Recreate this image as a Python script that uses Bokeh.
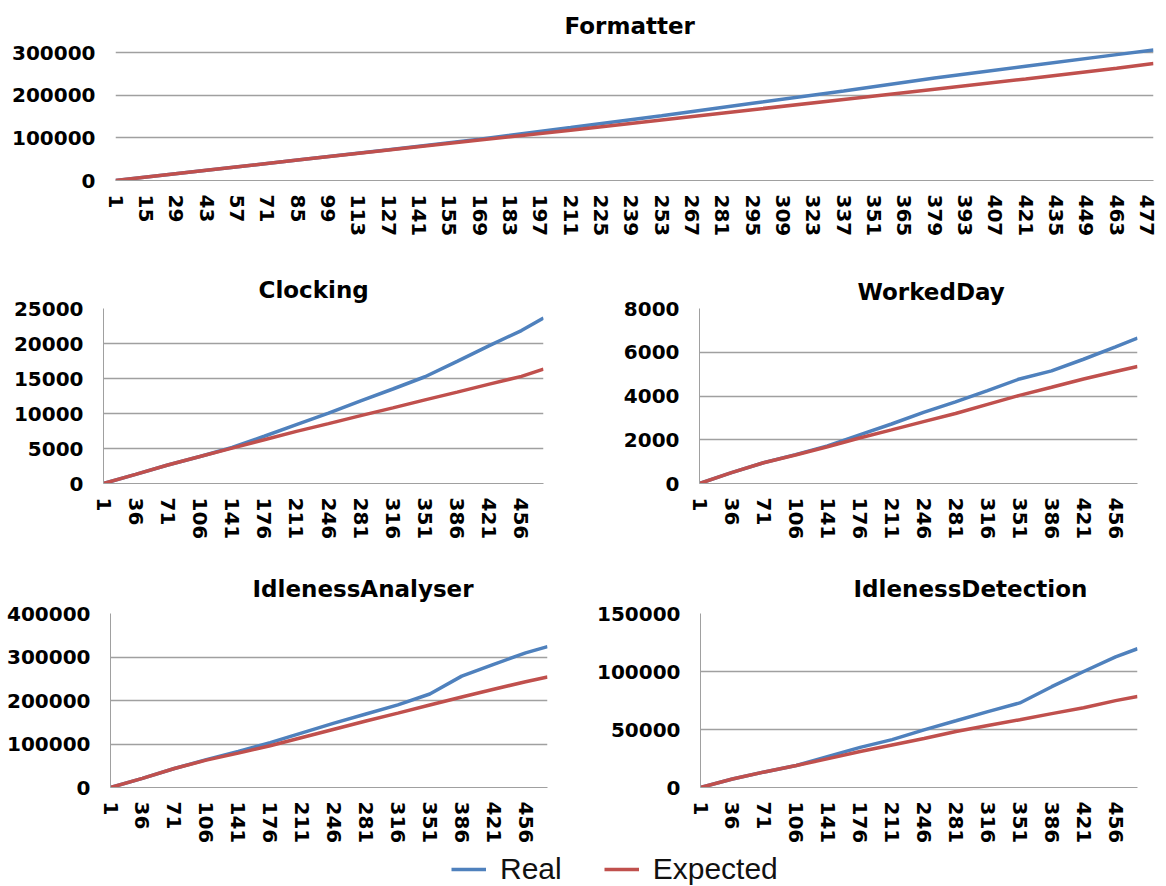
from bokeh.plotting import figure
from bokeh.layouts import column, row
from bokeh.models import Range1d, FixedTicker, NumeralTickFormatter, Legend, LegendItem
from bokeh.embed import file_html
from bokeh.resources import INLINE

BLUE = "#4F81BD"
RED = "#C0504D"
GRID = "#a0a0a0"

# ---------------- data ----------------
formatter_ticks = [1, 15, 29, 43, 57, 71, 85, 99, 113, 127, 141, 155, 169, 183, 197, 211, 225, 239,
                   253, 267, 281, 295, 309, 323, 337, 351, 365, 379, 393, 407, 421, 435, 449, 463, 477]
small_ticks = [1, 36, 71, 106, 141, 176, 211, 246, 281, 316, 351, 386, 421, 456]

formatter_x = [1, 43, 85, 127, 169, 211, 253, 295, 337, 379, 421, 463, 480]
formatter_real = [0, 24000, 48000, 72000, 97000, 124000, 152000, 181000, 210000, 240000, 268000, 295000, 306000]
formatter_expected = [0, 24000, 48000, 71500, 95000, 118000, 142000, 166000, 190000, 214000, 238000, 263000, 274000]

small_x = [1, 36, 71, 106, 141, 176, 211, 246, 281, 316, 351, 386, 421, 456, 480]
clocking_real = [0, 1300, 2650, 3850, 5150, 6750, 8400, 10050, 11800, 13500, 15250, 17450, 19700, 21850, 23650]
clocking_expected = [0, 1300, 2650, 3850, 5050, 6250, 7450, 8550, 9700, 10800, 11950, 13050, 14200, 15300, 16340]
workedday_real = [0, 500, 950, 1320, 1720, 2220, 2720, 3250, 3730, 4250, 4780, 5150, 5680, 6250, 6650]
workedday_expected = [0, 500, 950, 1300, 1680, 2080, 2450, 2830, 3200, 3620, 4030, 4400, 4780, 5120, 5350]
analyser_real = [0, 21000, 43600, 64000, 83000, 103000, 125600, 148000, 169000, 190000, 215000, 256000, 283000, 309500, 324000]
analyser_expected = [0, 21000, 43600, 63000, 79000, 96000, 115000, 134000, 153000, 171000, 189500, 208000, 226000, 243000, 254000]
detection_real = [0, 7300, 13400, 19000, 26800, 34600, 41300, 49700, 57500, 65400, 72900, 86900, 100000, 112600, 119600]
detection_expected = [0, 7300, 13400, 19000, 24900, 31000, 36600, 42200, 48300, 53400, 58400, 63700, 68700, 74900, 78500]

formatter_yticks = [0, 100000, 200000, 300000]
clocking_yticks = [0, 5000, 10000, 15000, 20000, 25000]
workedday_yticks = [0, 2000, 4000, 6000, 8000]
analyser_yticks = [0, 100000, 200000, 300000, 400000]
detection_yticks = [0, 50000, 100000, 150000]

series_labels = ["Real", "Expected"]

FONT = "DejaVu Sans"
LW = 3.5


def panel(title, xs, real, expected, xticks, yticks, yend, w, h, bl, br, bt, bb,
          t_offset, t_standoff, left_line=True):
    p = figure(width=w, height=h, x_range=Range1d(1, 480), y_range=Range1d(0, yend),
               toolbar_location=None, output_backend="svg",
               min_border_left=bl, min_border_right=br, min_border_top=bt, min_border_bottom=bb)
    p.outline_line_color = None
    p.background_fill_color = "white"
    p.border_fill_color = "white"
    p.line(xs, real, color=BLUE, line_width=LW)
    p.line(xs, expected, color=RED, line_width=LW)

    p.title.text = title
    p.title.align = "left"
    p.title.offset = t_offset
    p.title.standoff = t_standoff
    p.title.text_font = FONT
    p.title.text_font_style = "bold"
    p.title.text_font_size = "23px"
    p.title.text_color = "black"

    p.xaxis.ticker = FixedTicker(ticks=xticks)
    p.xaxis.major_label_orientation = "vertical"
    p.xaxis.major_tick_line_color = None
    p.xaxis.minor_tick_line_color = None
    p.xaxis.major_tick_out = 0
    p.xaxis.major_label_standoff = 14
    p.xaxis.axis_line_color = GRID
    p.xaxis.major_label_text_font = FONT
    p.xaxis.major_label_text_font_style = "bold"
    p.xaxis.major_label_text_font_size = "20px"
    p.xaxis.major_label_text_color = "black"

    p.yaxis.ticker = FixedTicker(ticks=yticks)
    p.yaxis.formatter = NumeralTickFormatter(format="0")
    p.yaxis.major_tick_line_color = None
    p.yaxis.minor_tick_line_color = None
    p.yaxis.major_tick_out = 0
    p.yaxis.major_label_standoff = 20
    p.yaxis.axis_line_color = GRID if left_line else None
    p.yaxis.major_label_text_font = FONT
    p.yaxis.major_label_text_font_style = "bold"
    p.yaxis.major_label_text_font_size = "20px"
    p.yaxis.major_label_text_color = "black"

    p.xgrid.grid_line_color = None
    p.ygrid.ticker = FixedTicker(ticks=yticks)
    p.ygrid.grid_line_color = GRID
    p.ygrid.grid_line_width = 1.5
    return p


p1 = panel("Formatter", formatter_x, formatter_real, formatter_expected, formatter_ticks,
           formatter_yticks, 318750, 1166, 245, 115, 13, 44, 65, 449, 11, left_line=False)
p2 = panel("Clocking", small_x, clocking_real, clocking_expected, small_ticks,
           clocking_yticks, 25000, 583, 310, 103, 40, 57, 72, 155, 11)
p3 = panel("WorkedDay", small_x, workedday_real, workedday_expected, small_ticks,
           workedday_yticks, 8000, 583, 310, 116, 29, 63, 66, 158, 8)
p4 = panel("IdlenessAnalyser", small_x, analyser_real, analyser_expected, small_ticks,
           analyser_yticks, 400000, 583, 291, 110, 36, 58, 54, 142, 24)
p5 = panel("IdlenessDetection", small_x, detection_real, detection_expected, small_ticks,
           detection_yticks, 150000, 583, 291, 117, 29, 58, 54, 153, 24)

# legend strip: the series lines lie outside this strip's visible range,
# only their legend swatches are shown
pl = figure(width=1166, height=40, x_range=Range1d(-3, -2), y_range=Range1d(0, 1),
            x_axis_type=None, y_axis_type=None,
            toolbar_location=None, output_backend="svg", min_border=0)
pl.grid.visible = False
pl.outline_line_color = None
r_real = pl.line(small_x, detection_real, color=BLUE, line_width=LW)
r_exp = pl.line(small_x, detection_expected, color=RED, line_width=LW)
legend = Legend(items=[LegendItem(label=series_labels[0], renderers=[r_real]),
                       LegendItem(label=series_labels[1], renderers=[r_exp])],
                orientation="horizontal", location=(336, 0), glyph_width=35, glyph_height=30,
                label_standoff=14, spacing=42, padding=0, margin=0,
                border_line_color=None, background_fill_alpha=0,
                label_text_font="Liberation Sans", label_text_font_size="30px",
                label_text_color="#111111")
pl.add_layout(legend)

layout = column(p1, row(p2, p3), row(p4, p5), pl)
open("out.html", "w").write(file_html(layout, INLINE))
